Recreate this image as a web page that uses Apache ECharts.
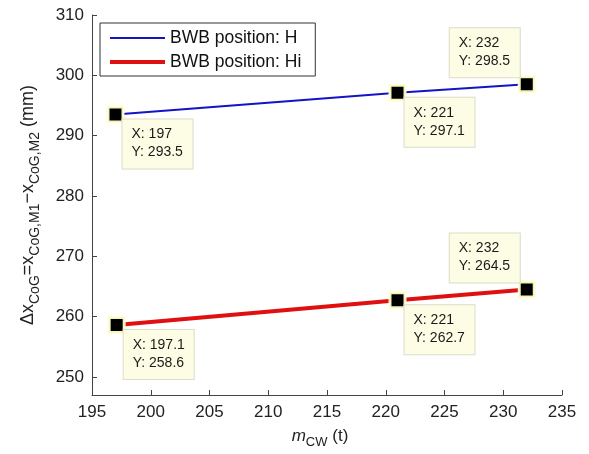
<!DOCTYPE html>
<html>
<head>
<meta charset="utf-8">
<script src="https://cdn.jsdelivr.net/npm/echarts@6/dist/echarts.min.js"></script>
<style>
  html, body { margin: 0; padding: 0; background: #fff; }
  #chart { width: 589px; height: 454px; }
</style>
</head>
<body>
<div id="chart"></div>
<script>
// Counterweight mass (t) and CoG shift (mm) for the two BWB positions
const massH = [197, 221, 232];
const shiftH = [293.5, 297.1, 298.5];
const massHi = [197.1, 221, 232];
const shiftHi = [258.6, 262.7, 264.5];

const seriesNames = ['BWB position: H', 'BWB position: Hi'];
const yTicks = [250, 260, 270, 280, 290, 300, 310];

const FONT = 'Liberation Sans, Arial, sans-serif';

// Data tip box: below-right of the marker, except the last point (above-left)
function tipItems(xs, ys) {
  return xs.map(function (x, i) {
    const last = i === xs.length - 1;
    return {
      value: [x, ys[i]],
      label: last
        ? { align: 'left', verticalAlign: 'bottom', offset: [-77, -7] }
        : { align: 'left', verticalAlign: 'top', offset: [7, 5] }
    };
  });
}

function lineSeries(name, xs, ys, color, width) {
  return {
    name: name,
    type: 'line',
    data: tipItems(xs, ys),
    symbol: 'rect',
    symbolSize: 15,
    itemStyle: { color: '#000', borderColor: 'rgba(255,255,205,0.95)', borderWidth: 3 },
    lineStyle: { color: color, width: width },
    silent: true,
    emphasis: { disabled: true },
    z: 3,
    label: {
      show: true,
      position: 'inside',
      formatter: function (p) { return 'X: ' + p.value[0] + '\nY: ' + p.value[1]; },
      fontFamily: FONT,
      fontSize: 14,
      lineHeight: 18,
      color: '#1a1a1a',
      backgroundColor: '#fdfde6',
      borderColor: '#dcdcc8',
      borderWidth: 1,
      padding: [6, 9, 7, 9],
      width: 52
    }
  };
}

const chart = echarts.init(document.getElementById('chart'), null, { renderer: 'canvas' });

chart.setOption({
  animation: false,
  backgroundColor: '#fff',
  grid: { left: 92, right: 27, top: 15, bottom: 56, containLabel: false },
  legend: {
    left: 100,
    top: 23,
    orient: 'vertical',
    backgroundColor: '#fff',
    borderColor: '#333',
    borderWidth: 1,
    borderRadius: 0,
    padding: [6, 14, 5, 10],
    itemGap: 6,
    itemWidth: 55,
    itemHeight: 16,
    symbolKeepAspect: true,
    textStyle: { fontFamily: FONT, fontSize: 17.5, color: '#111' },
    data: [
      { name: seriesNames[0], icon: 'path://M0,0H55V2H0Z', itemStyle: { color: '#1414c4', borderWidth: 0 } },
      { name: seriesNames[1], icon: 'path://M0,0H55V4H0Z', itemStyle: { color: '#e01010', borderWidth: 0 } }
    ],
    z: 5
  },
  xAxis: {
    type: 'value',
    min: 195,
    max: 235,
    interval: 5,
    name: '{i|m}{s|CW} (t)',
    nameLocation: 'middle',
    nameGap: 28,
    nameTextStyle: {
      fontFamily: FONT, fontSize: 17, color: '#222',
      padding: [0, 14, 0, 0],
      rich: {
        i: { fontFamily: FONT, fontSize: 17, fontStyle: 'italic', color: '#222' },
        s: { fontFamily: FONT, fontSize: 13, color: '#222', padding: [13, 0, 0, 0] }
      }
    },
    axisLine: { show: true, onZero: false, lineStyle: { color: '#444', width: 1 } },
    axisTick: { show: true, inside: true, length: 5, lineStyle: { color: '#444' } },
    axisLabel: { fontFamily: FONT, fontSize: 17, color: '#222', margin: 9 },
    splitLine: { show: false }
  },
  yAxis: {
    type: 'value',
    min: 247,
    max: 310,
    name: '{n|Δx}{s|CoG}{n|=x}{s|CoG,M1}{n|−x}{s|CoG,M2}{n| (mm)}',
    nameLocation: 'middle',
    nameGap: 50,
    nameRotate: 90,
    nameTextStyle: {
      fontFamily: FONT, fontSize: 18, color: '#222',
      rich: {
        n: { fontFamily: FONT, fontSize: 18, color: '#222' },
        s: { fontFamily: FONT, fontSize: 14, color: '#222', padding: [14, 0, 0, 0] }
      }
    },
    axisLine: { show: true, onZero: false, lineStyle: { color: '#444', width: 1 } },
    axisTick: { show: true, inside: true, length: 5, customValues: yTicks, lineStyle: { color: '#444' } },
    axisLabel: { fontFamily: FONT, fontSize: 17, color: '#222', margin: 8, customValues: yTicks },
    splitLine: { show: false }
  },
  series: [
    lineSeries(seriesNames[0], massH, shiftH, '#1414c4', 2),
    lineSeries(seriesNames[1], massHi, shiftHi, '#e01010', 4)
  ]
});
</script>
</body>
</html>
